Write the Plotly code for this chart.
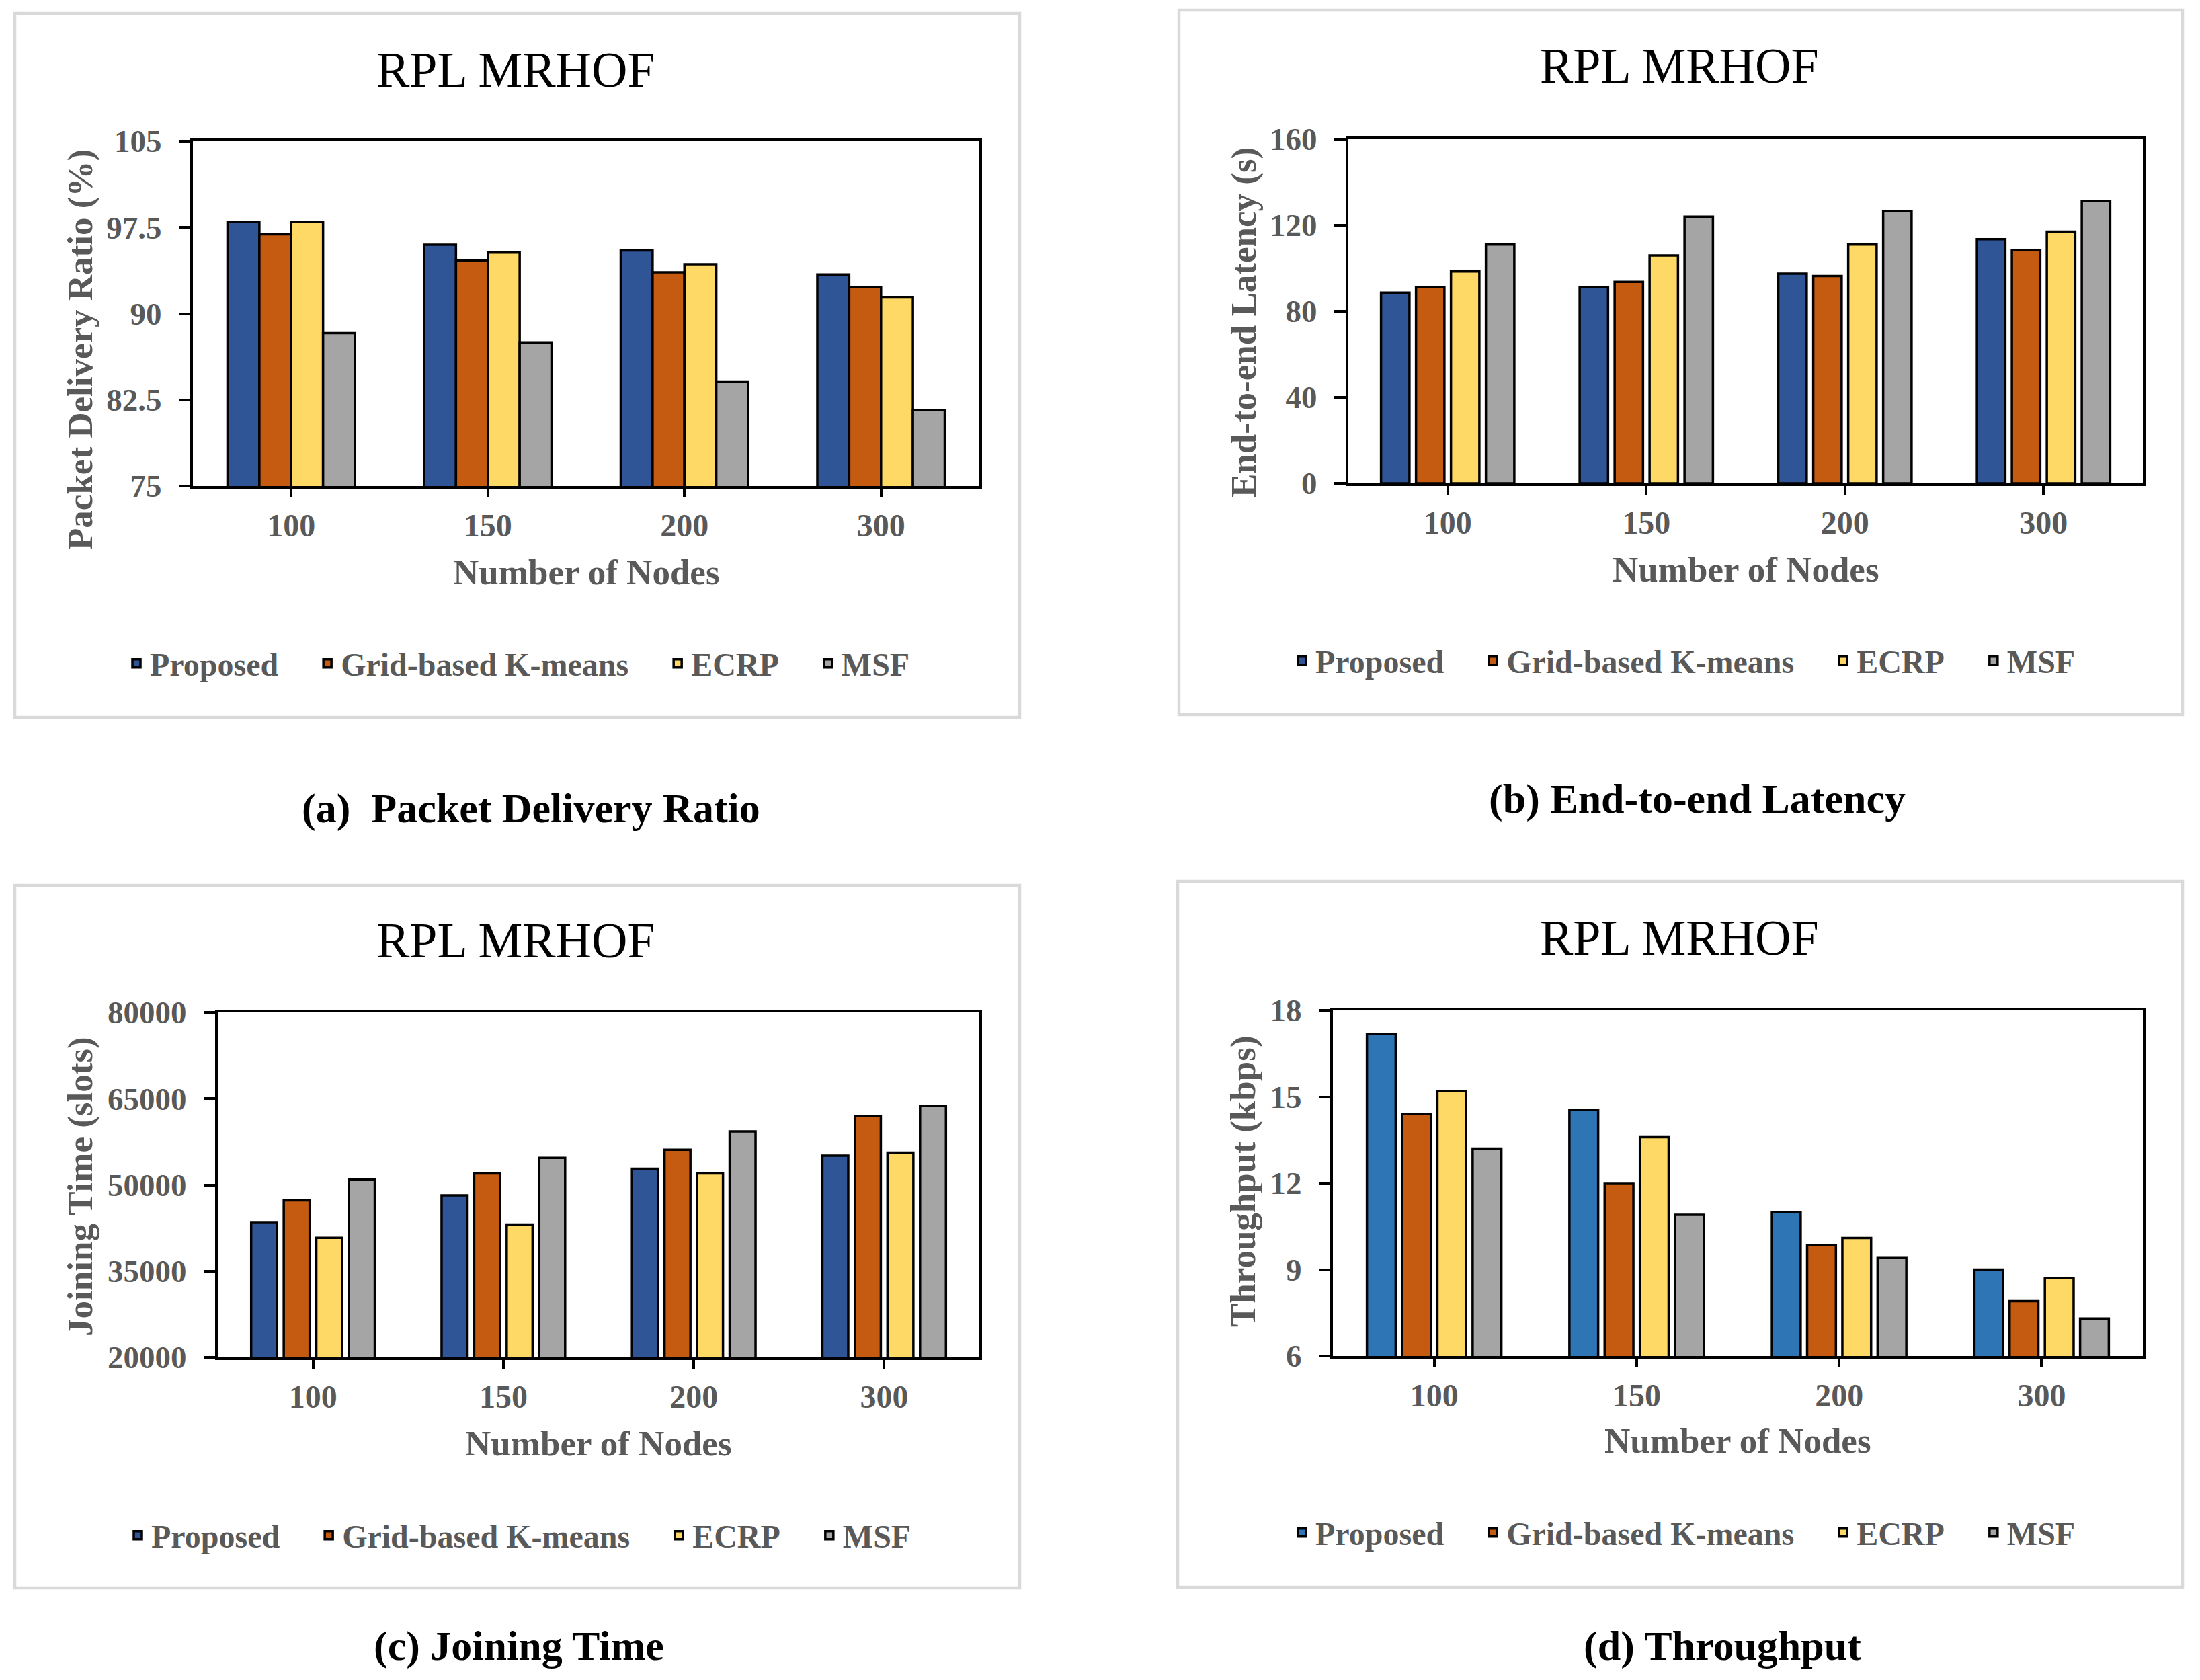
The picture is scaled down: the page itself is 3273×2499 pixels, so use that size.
import plotly.graph_objects as go

# ---------------- data ----------------
nodes = ["100", "150", "200", "300"]
series = ["Proposed", "Grid-based K-means", "ECRP", "MSF"]

pdr_proposed = [98.0, 96.0, 95.5, 93.4]
pdr_grid = [96.9, 94.6, 93.6, 92.3]
pdr_ecrp = [98.0, 95.3, 94.3, 91.4]
pdr_msf = [88.3, 87.5, 84.1, 81.6]

lat_proposed = [88.7, 91.3, 97.5, 113.5]
lat_grid = [91.3, 93.7, 96.4, 108.4]
lat_ecrp = [98.5, 105.9, 111.0, 117.0]
lat_msf = [111.0, 124.0, 126.5, 131.3]

join_proposed = [43500, 48200, 52800, 55100]
join_grid = [47300, 52000, 56100, 62000]
join_ecrp = [40800, 43100, 52000, 55600]
join_msf = [50900, 54700, 59300, 63700]

thr_proposed = [17.18, 14.55, 11.0, 9.0]
thr_grid = [14.4, 12.0, 9.85, 7.9]
thr_ecrp = [15.2, 13.6, 10.1, 8.7]
thr_msf = [13.2, 10.9, 9.4, 7.3]

y_titles = ["Packet Delivery Ratio (%)", "End-to-end Latency (s)",
            "Joining Time (slots)", "Throughput (kbps)"]
captions = ["(a)  Packet Delivery Ratio", "(b) End-to-end Latency",
            "(c) Joining Time", "(d) Throughput"]
chart_title = "RPL MRHOF"
x_title = "Number of Nodes"

# ---------------- styling / layout ----------------
W, H = 3273, 2499
FONT = "Liberation Serif"
GRAY = "#595959"
PAD = "\u00a0" * 4   # extra spacing after legend entries


def px(x):
    return x / W


def py(y):
    return 1 - y / H


colors_std = ["#2F5597", "#C55A11", "#FFD966", "#A5A5A5"]
colors_d = ["#2E75B6", "#C55A11", "#FFD966", "#A5A5A5"]

panels = [
    dict(vals=[pdr_proposed, pdr_grid, pdr_ecrp, pdr_msf], colors=colors_std,
         plot=(287, 1457, 210, 723), yr=[75, 105], dt=7.5,
         slot=0.162, width=0.162,
         box=(22, 1517, 20, 1067), title=(767, 104), xt=(872, 851),
         yt=(119, 520), leg=(771, 987), cap=(790, 1202), tickfmt=None),
    dict(vals=[lat_proposed, lat_grid, lat_ecrp, lat_msf], colors=colors_std,
         plot=(2006, 3188, 207, 719), yr=[0, 160], dt=40,
         slot=0.176, width=0.143,
         box=(1754, 3247, 15, 1063), title=(2498, 98), xt=(2597, 847),
         yt=(1850, 479), leg=(2505, 983), cap=(2525, 1189), tickfmt=None),
    dict(vals=[join_proposed, join_grid, join_ecrp, join_msf], colors=colors_std,
         plot=(324, 1457, 1506, 2019), yr=[20000, 80000], dt=15000,
         slot=0.171, width=0.136,
         box=(22, 1517, 1317, 2362), title=(767, 1399), xt=(890, 2147),
         yt=(119, 1765), leg=(773, 2284), cap=(772, 2448), tickfmt="d"),
    dict(vals=[thr_proposed, thr_grid, thr_ecrp, thr_msf], colors=colors_d,
         plot=(1983, 3188, 1503, 2017), yr=[6, 18], dt=3,
         slot=0.174, width=0.142,
         box=(1752, 3247, 1311, 2361), title=(2498, 1395), xt=(2585, 2143),
         yt=(1850, 1757), leg=(2505, 2280), cap=(2562, 2448), tickfmt=None),
]

fig = go.Figure()
layout = dict(
    width=W, height=H,
    margin=dict(l=0, r=0, t=0, b=0, pad=0, autoexpand=False),
    paper_bgcolor="white", plot_bgcolor="white",
    barmode="group",
    font=dict(family=FONT, size=47, color=GRAY),
)
annotations = []
shapes = []

for i, p in enumerate(panels):
    n = i + 1
    xa = "x" if n == 1 else f"x{n}"
    ya = "y" if n == 1 else f"y{n}"
    lg = "legend" if n == 1 else f"legend{n}"
    x0, x1, y0, y1 = p["plot"]
    for k, (name, vals) in enumerate(zip(series, p["vals"])):
        off = -2 * p["slot"] + k * p["slot"] + (p["slot"] - p["width"]) / 2
        label = name + (PAD if k < len(series) - 1 else "")
        fig.add_trace(go.Bar(
            x=nodes, y=vals, name=label,
            xaxis=xa, yaxis=ya, legend=lg,
            offset=off, width=p["width"],
            marker=dict(color=p["colors"][k], line=dict(color="black", width=3.5)),
            showlegend=True,
        ))
    xkey = "xaxis" if n == 1 else f"xaxis{n}"
    ykey = "yaxis" if n == 1 else f"yaxis{n}"
    layout[xkey] = dict(
        domain=[px(x0), px(x1)], anchor=ya, type="category",
        categoryorder="array", categoryarray=nodes,
        range=[-0.5, 3.5], automargin=False,
        showline=True, linecolor="black", linewidth=4, mirror=True,
        ticks="outside", ticklen=13, tickwidth=3.5, tickcolor="black",
        tickfont=dict(family=FONT, size=48, color=GRAY, weight="bold"),
        ticklabelstandoff=0,
        showgrid=False, zeroline=False, fixedrange=True,
    )
    ydict = dict(
        domain=[py(y1), py(y0)], anchor=xa,
        range=p["yr"], dtick=p["dt"], tick0=p["yr"][0], automargin=False,
        showline=True, linecolor="black", linewidth=4, mirror=True,
        ticks="outside", ticklen=17, tickwidth=3.5, tickcolor="black",
        tickfont=dict(family=FONT, size=47, color=GRAY, weight="bold"),
        ticklabelstandoff=16,
        showgrid=False, zeroline=False, fixedrange=True,
    )
    if p["tickfmt"]:
        ydict["tickformat"] = p["tickfmt"]
    layout[ykey] = ydict

    # overlay axis for inside tick marks at category boundaries
    m = n + 4
    layout[f"xaxis{m}"] = dict(
        overlaying=xa, anchor=ya, range=[-0.5, 3.5], automargin=False,
        tickmode="array", tickvals=[0.5, 1.5, 2.5],
        ticks="inside", ticklen=12, tickwidth=3.5, tickcolor="black",
        showticklabels=False, showline=False, showgrid=False,
        zeroline=False, fixedrange=True,
    )

    layout[lg] = dict(
        orientation="h", x=px(p["leg"][0]), y=py(p["leg"][1]),
        xanchor="center", yanchor="middle",
        font=dict(family=FONT, size=48, color=GRAY, weight="bold"),
        bgcolor="rgba(0,0,0,0)", traceorder="normal",
        itemclick=False, itemdoubleclick=False,
    )

    bx0, bx1, by0, by1 = p["box"]
    shapes.append(dict(type="rect", xref="paper", yref="paper",
                       x0=px(bx0), x1=px(bx1), y0=py(by1), y1=py(by0),
                       line=dict(color="#D9D9D9", width=4.5), layer="below"))

    annotations.append(dict(text=chart_title, x=px(p["title"][0]), y=py(p["title"][1]),
                            xref="paper", yref="paper", showarrow=False,
                            xanchor="center", yanchor="middle",
                            font=dict(family=FONT, size=74, color="black")))
    annotations.append(dict(text=x_title, x=px(p["xt"][0]), y=py(p["xt"][1]),
                            xref="paper", yref="paper", showarrow=False,
                            xanchor="center", yanchor="middle",
                            font=dict(family=FONT, size=53, color=GRAY, weight="bold")))
    annotations.append(dict(text=y_titles[i], x=px(p["yt"][0]), y=py(p["yt"][1]),
                            xref="paper", yref="paper", showarrow=False,
                            xanchor="center", yanchor="middle", textangle=-90,
                            font=dict(family=FONT, size=53, color=GRAY, weight="bold")))
    annotations.append(dict(text=captions[i], x=px(p["cap"][0]), y=py(p["cap"][1]),
                            xref="paper", yref="paper", showarrow=False,
                            xanchor="center", yanchor="middle",
                            font=dict(family=FONT, size=62, color="black", weight="bold")))

layout["annotations"] = annotations
layout["shapes"] = shapes
fig.update_layout(**layout)
fig.write_html(
    "out.html",
    config={"displayModeBar": False},
    post_script=(
        "document.documentElement.style.margin='0';"
        "document.body.style.margin='0';"
        "document.body.style.overflow='hidden';"
    ),
)
